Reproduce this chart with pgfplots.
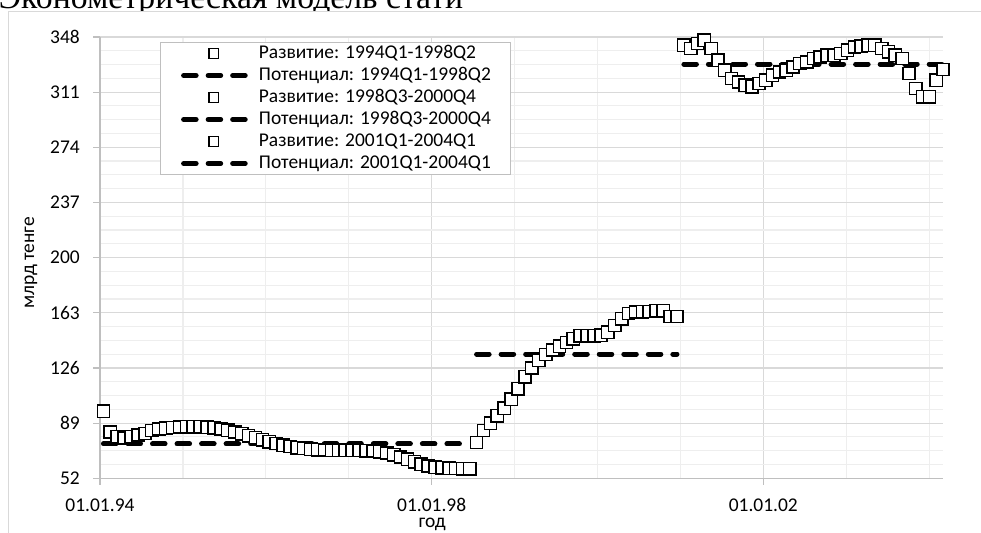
\documentclass[border=0pt]{standalone}
\usepackage{pgfplots}
\usepackage{pgfplotstable}
\pgfplotsset{compat=1.18}
\usepackage{fontspec}
\setmainfont{Carlito}
\newfontfamily\titlefont{Liberation Serif}
\definecolor{axgray}{HTML}{BFBFBF}
\definecolor{majgrid}{HTML}{D9D9D9}
\definecolor{mingrid}{HTML}{EEEEEE}
\pgfplotstableread{
y
97
83
80
79
80
81
82
84
85
85.6
86
86.4
86.6
86.7
86.6
86.3
85.8
85
84.2
83
81.8
80.5
79.2
77.8
76.5
75.3
74.2
73.3
72.5
71.9
71.4
71.1
70.9
70.8
70.8
70.8
70.8
70.7
70.5
70.3
69.8
69
67.8
66.3
64.7
63
61.5
60.2
59.4
59
58.7
58.5
58.4
58.3
}\devA
\pgfplotstableread{
y
76
84
89
94
99
105
112
120
126
131
135
138
140.5
143
145.5
147.5
147.5
147.5
148
150
154.5
159
162.5
163.5
163.7
163.8
164.3
164.5
160.5
160.5
}\devB
\pgfplotstableread{
y
342.4
340.2
343.6
345.8
340.2
332.4
325.7
320.1
317.8
315.6
314.5
316.8
319
322.3
324.5
325.7
327.9
330.2
331.2
333.5
334.6
335.7
335.7
336.9
339.1
341.3
341.8
342.4
342.4
340.2
338
335.7
333.5
323.5
313.4
307.8
307.8
319
326.2
}\devC
\begin{document}
\begin{tikzpicture}
% px -> pt : X=(x-100)*0.75 , Y=(478.3-y)*0.75
\useasboundingbox (-75pt,-41.0pt) rectangle (660.75pt,358.7pt);
\node[anchor=base west, inner sep=0pt, font=\titlefont\fontsize{25.3}{30}\selectfont] at (-76pt,352.5pt) {Эконометрическая модель стати};
\filldraw[fill=white, draw=majgrid, line width=0.8pt] (-68.8pt,-120pt) rectangle (760pt,349.95pt);
\begin{axis}[
  at={(0pt,0pt)}, anchor=south west,
  scale only axis, width=632.25pt, height=331.0pt,
  xmin=0, xmax=122, ymin=52, ymax=348,
  clip=false,
  axis lines*=left,
  axis line style={axgray, line width=0.9pt},
  xtick={0,48,96}, xticklabels={01.01.94,01.01.98,01.01.02},
  minor xtick={12,24,36,60,72,84,108,120},
  ytick={52,89,126,163,200,237,274,311,348},
  minor ytick={61.25,70.5,79.75,98.25,107.5,116.75,135.25,144.5,153.75,172.25,181.5,190.75,209.25,218.5,227.75,246.25,255.5,264.75,283.25,292.5,301.75,320.25,329.5,338.75},
  grid=both,
  major grid style={majgrid, line width=0.9pt},
  minor grid style={mingrid, line width=0.9pt},
  tick align=outside,
  major tick length=5pt, minor tick length=0pt,
  tick style={axgray, line width=0.9pt},
  /pgf/number format/assume math mode=true,
  tick label style={font=\fontsize{14.6}{17}\selectfont, inner sep=0pt},
  yticklabel style={anchor=east, xshift=-10pt},
  xticklabel style={anchor=north, yshift=-10pt},
  xlabel={год}, ylabel={млрд тенге},
  every axis x label/.style={at={(axis description cs:0.394,-0.104)}, anchor=center, font=\fontsize{14.6}{17}\selectfont},
  every axis y label/.style={at={(axis description cs:-0.0819,0.488)}, rotate=90, anchor=center, font=\fontsize{14.6}{17}\selectfont},
  legend style={at={(axis description cs:0.0712,0.9887)}, anchor=north west,
    draw=axgray, line width=0.8pt, fill=white, font=\fontsize{14.6}{17}\selectfont,
    inner xsep=15pt, inner ysep=1.3pt, row sep=2.5pt, column sep=7.5pt,
    nodes={inner sep=0pt, text height=10.5pt, text depth=3.5pt}},
  legend cell align=left,
  dev/.style={only marks, mark=square*, mark size=4.6pt,
    mark options={fill=white, draw=black, line width=1.1pt, solid},
    legend image code/.code={\path (0pt,0pt) (49pt,0pt); \draw[##1, mark size=3.7pt] plot coordinates {(24.5pt,0pt)};}},
  pot/.style={black, line width=3.75pt, line cap=round, dash pattern=on 9.4pt off 9pt, mark=none,
    legend image code/.code={\draw[##1] (1.9pt,0pt) -- (49pt,0pt);}},
]
\addplot[dev] table[x expr=\coordindex+0.5, y=y] {\devA};
\addlegendentry{Развитие: 1994Q1-1998Q2}
\addplot[pot] coordinates {(0.5,75) (53.5,75)};
\addlegendentry{Потенциал: 1994Q1-1998Q2}
\addplot[dev] table[x expr=\coordindex+54.5, y=y] {\devB};
\addlegendentry{Развитие: 1998Q3-2000Q4}
\addplot[pot] coordinates {(54.5,135.3) (83.5,135.3)};
\addlegendentry{Потенциал: 1998Q3-2000Q4}
\addplot[dev] table[x expr=84.5+\coordindex*0.987, y=y] {\devC};
\addlegendentry{Развитие: 2001Q1-2004Q1}
\addplot[pot] coordinates {(84.5,329.8) (122,329.8)};
\addlegendentry{Потенциал: 2001Q1-2004Q1}
\end{axis}
\end{tikzpicture}
\end{document}
